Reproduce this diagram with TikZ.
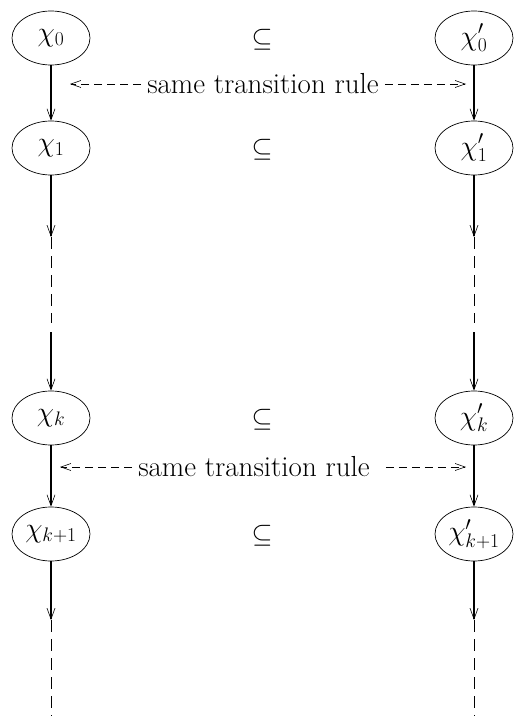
\documentclass[tikz,border=0pt]{standalone}
\usepackage{fix-cm}
\usetikzlibrary{shapes.geometric,arrows.meta}
\begin{document}
\begin{tikzpicture}[x=1pt,y=-1pt,
  state/.style={draw,ellipse,line width=0.7pt,minimum width=78pt,minimum height=54pt,inner sep=0pt,font=\fontsize{28}{32}\selectfont},
  rel/.style={font=\fontsize{27}{32}\selectfont},
  lbl/.style={font=\fontsize{29}{34}\selectfont,inner sep=6pt},
  tip/.style={-{Straight Barb[length=11pt,width=8pt,line width=0.6pt]}},
  lflow/.style={tip,line width=1.2pt},
  rflow/.style={tip,line width=1.8pt},
  cont/.style={dashed,dash pattern=on 12pt off 7pt,line width=0.7pt},
  same/.style={dashed,dash pattern=on 8pt off 5pt,line width=0.7pt,-{Straight Barb[length=10pt,width=7pt,line width=0.6pt]}}]
\useasboundingbox (0,0) rectangle (514,719);
% left column
\node[state] (L0) at (51,38) {$\chi_0$};
\node[state] (L1) at (51,148) {$\chi_1$};
\node[state] (Lk) at (51,418) {$\chi_k$};
\node[state] (Lk1) at (51,534) {$\chi_{k+1}$};
% right column
\node[state] (R0) at (474,38) {$\chi'_0$};
\node[state] (R1) at (474,148) {$\chi'_1$};
\node[state] (Rk) at (474,418) {$\chi'_k$};
\node[state] (Rk1) at (474,534) {$\chi'_{k+1}$};
% subset signs
\node[rel] (s0) at (262,40) {$\subseteq$};
\node[rel] (s1) at (262,150) {$\subseteq$};
\node[rel] (sk) at (262,420) {$\subseteq$};
\node[rel] (sk1) at (262,536) {$\subseteq$};
% coordinates for free ends
\coordinate (la1) at (51,237); \coordinate (la2) at (51,323); \coordinate (la3) at (51,332);
\coordinate (lb1) at (51,620); \coordinate (lb2) at (51,716);
\coordinate (ra1) at (474,237); \coordinate (ra2) at (474,323); \coordinate (ra3) at (474,332);
\coordinate (rb1) at (474,620); \coordinate (rb2) at (474,716);
% left flow
\draw[lflow] (L0) -- (L1);
\draw[lflow] (L1) -- (la1);
\draw[cont] (la1) -- (la2);
\draw[lflow] (la3) -- (Lk);
\draw[lflow] (Lk) -- (Lk1);
\draw[lflow] (Lk1) -- (lb1);
\draw[cont] (lb1) -- (lb2);
% right flow
\draw[rflow] (R0) -- (R1);
\draw[rflow] (R1) -- (ra1);
\draw[cont] (ra1) -- (ra2);
\draw[rflow] (ra3) -- (Rk);
\draw[rflow] (Rk) -- (Rk1);
\draw[rflow] (Rk1) -- (rb1);
\draw[cont] (rb1) -- (rb2);
% same transition rule
\node[lbl] (t1) at (263,84) {same transition rule};
\coordinate (t1l) at (70,84); \coordinate (t1r) at (466,84);
\draw[same] (t1) -- (t1l);
\draw[same] (t1) -- (t1r);
\node[lbl] (t2) at (254,467) {same transition rule};
\coordinate (t2l) at (60,467); \coordinate (t2r) at (466,467);
\draw[same] (t2) -- (t2l);
\draw[same] ([xshift=10pt]t2.east) -- (t2r);
\end{tikzpicture}
\end{document}
